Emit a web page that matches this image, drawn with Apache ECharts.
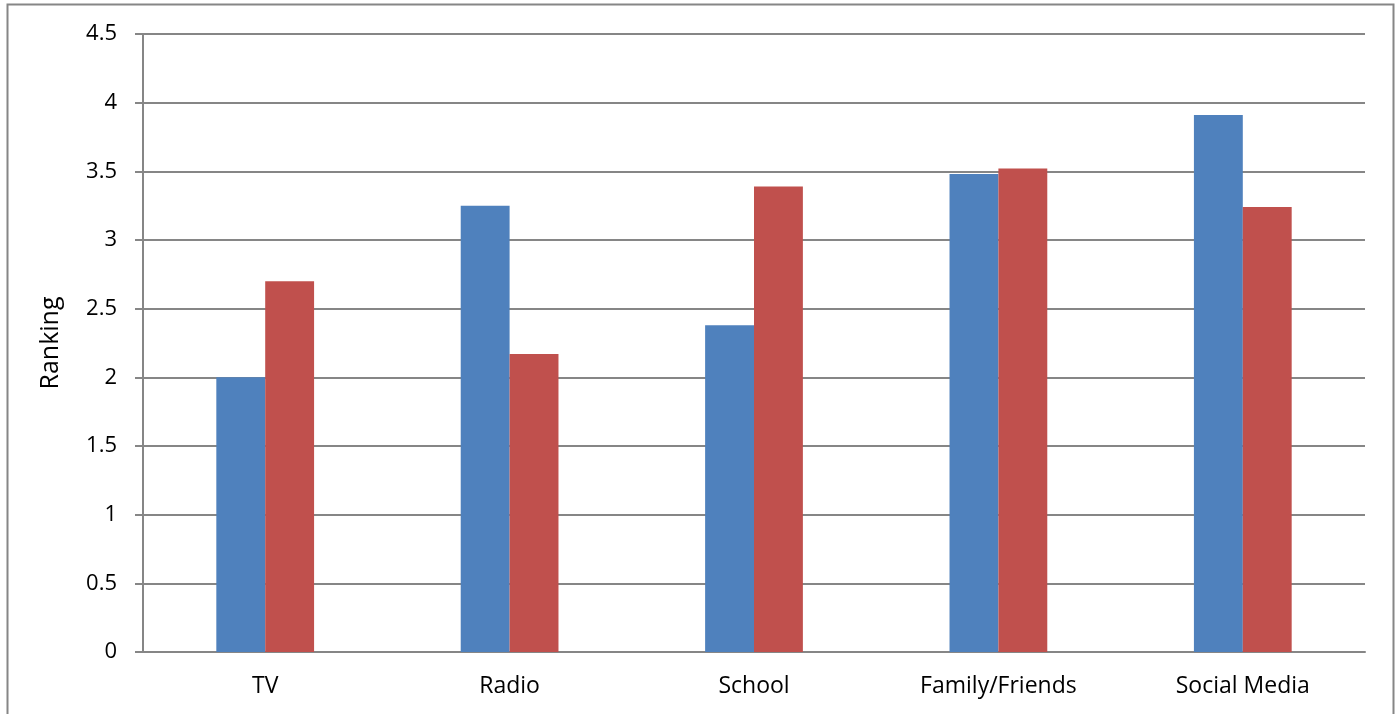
<!DOCTYPE html>
<html>
<head>
<meta charset="utf-8">
<script src="https://cdn.jsdelivr.net/npm/echarts@6/dist/echarts.min.js"></script>
<style>
  html, body { margin: 0; padding: 0; background: #fff; }
  #chart { width: 1398px; height: 714px; }
</style>
</head>
<body>
<div id="chart"></div>
<script>
// Source categories and average ranking per group
const categories = ['TV', 'Radio', 'School', 'Family/Friends', 'Social Media'];
const seriesA = [2.0, 3.25, 2.38, 3.48, 3.91];
const seriesB = [2.7, 2.17, 3.39, 3.52, 3.24];

const chart = echarts.init(document.getElementById('chart'), null, { renderer: 'canvas' });
const fontFamily = '"Open Sans", Lato, "Liberation Sans", sans-serif';

chart.setOption({
  animation: false,
  backgroundColor: '#ffffff',
  graphic: [{
    type: 'rect',
    shape: { x: 7.5, y: 4.5, width: 1386, height: 730 },
    style: { fill: 'none', stroke: '#868686', lineWidth: 2 },
    silent: true
  }],
  grid: { left: 143, top: 34, right: 33, bottom: 62, containLabel: false },
  xAxis: {
    type: 'category',
    data: categories,
    axisLine: { show: true, lineStyle: { color: '#868686', width: 2 } },
    axisTick: { show: false },
    axisLabel: { color: '#000', fontSize: 23, fontFamily, margin: 23 }
  },
  yAxis: {
    type: 'value',
    min: 0,
    max: 4.5,
    interval: 0.5,
    name: 'Ranking',
    nameLocation: 'middle',
    nameGap: 80,
    nameRotate: 90,
    nameTextStyle: { color: '#000', fontSize: 25, fontFamily },
    axisLine: { show: true, lineStyle: { color: '#868686', width: 2 } },
    axisTick: { show: true, length: 8, lineStyle: { color: '#868686', width: 2 } },
    axisLabel: { color: '#000', fontSize: 22, fontFamily, margin: 26 },
    splitLine: { show: true, lineStyle: { color: '#868686', width: 2 } }
  },
  series: [
    {
      type: 'bar',
      data: seriesA,
      itemStyle: { color: '#4F81BD' },
      barGap: '0%',
      barCategoryGap: '60%'
    },
    {
      type: 'bar',
      data: seriesB,
      itemStyle: { color: '#C0504D' },
      barGap: '0%',
      barCategoryGap: '60%'
    }
  ]
});
</script>
</body>
</html>
